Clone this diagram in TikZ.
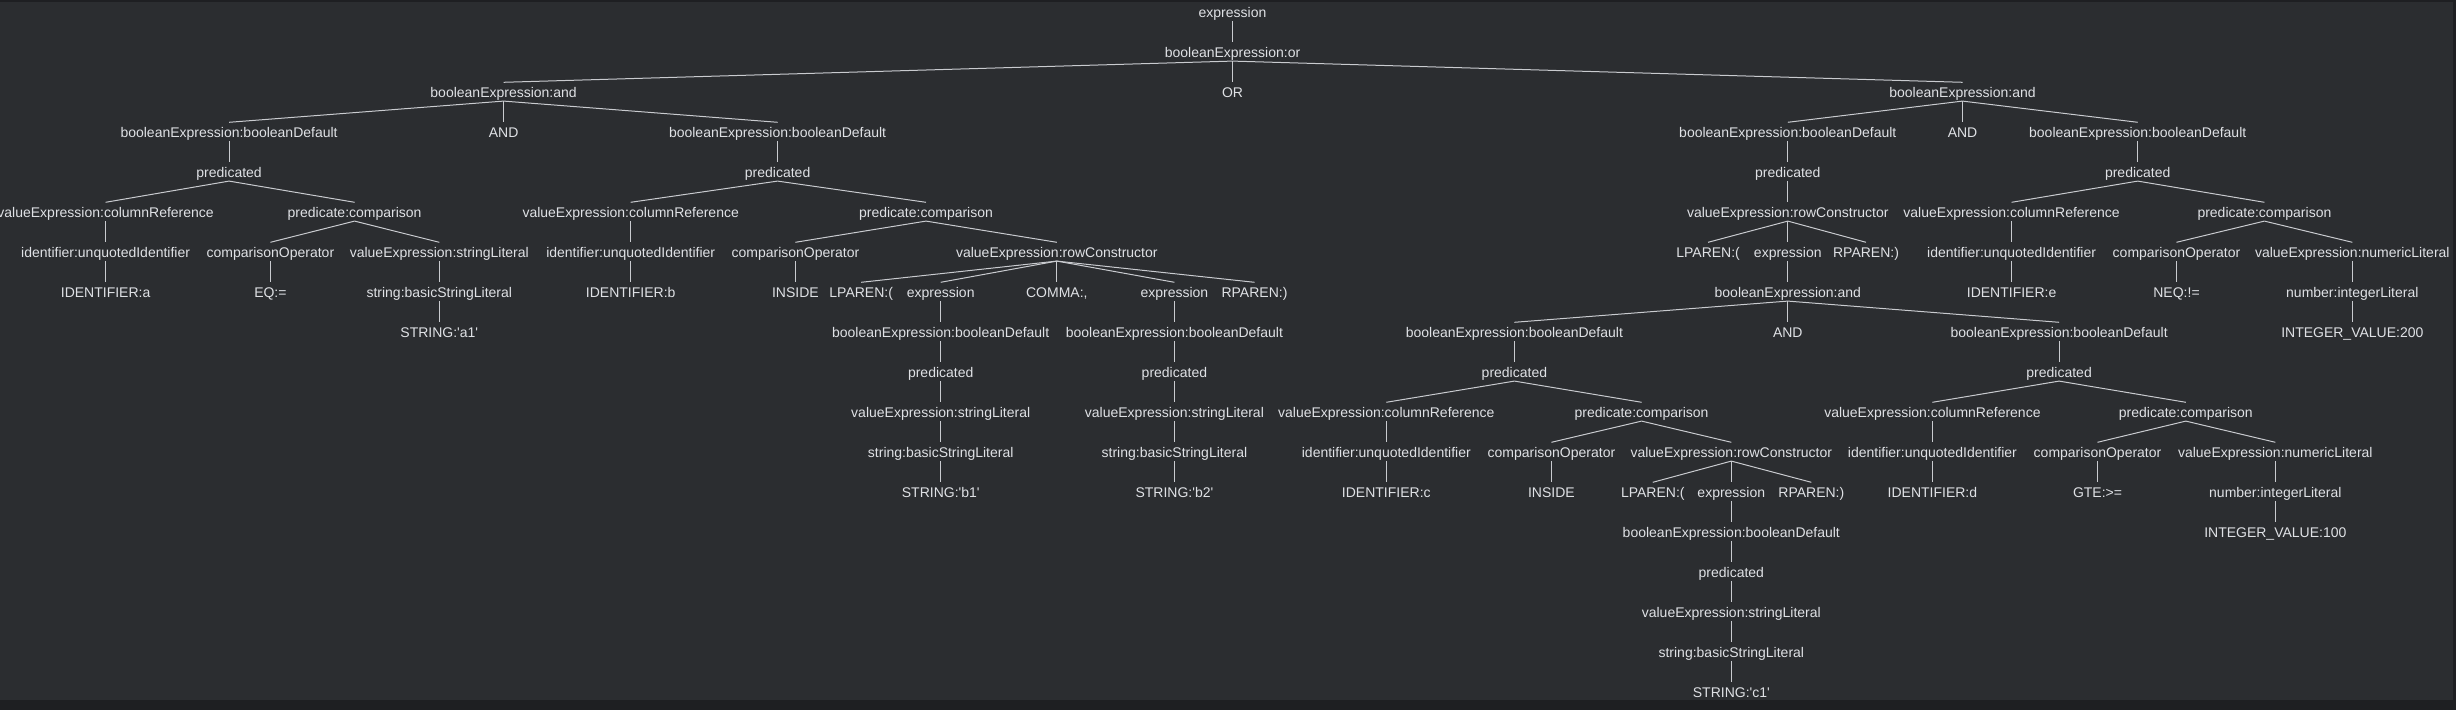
\documentclass[tikz,border=0pt]{standalone}
\usepackage{fontspec}
\setmainfont{Liberation Sans}
\definecolor{bgpanel}{HTML}{2B2D30}
\definecolor{bgframe}{HTML}{1E1F22}
\definecolor{textgray}{HTML}{DFE1E5}
\definecolor{linegray}{HTML}{C9CBCF}
\tikzstyle{tree edge} = [draw,line width=0.5pt,linegray,-]

\begin{document}
\begin{tikzpicture}[-,x=0.5pt,y=-0.5pt,node distance=20pt,
  tree node/.style={text=textgray,inner sep=0pt,text height=7.3pt,text depth=1.7pt,font=\fontsize{7}{8.4}\selectfont}]

  \useasboundingbox (0,0) rectangle (2456,710);
  \clip (0,0) rectangle (2456,710);
  \fill[bgpanel] (0,0) rectangle (2456,710);
  \fill[bgframe] (0,0) rectangle (2456,2);
  \fill[bgframe] (0,700) rectangle (2456,710);
  \fill[bgframe] (2453,0) rectangle (2456,710);

  % top of the tree
  \node[tree node] (0) at (1232.5,11.7) {expression};
  \node[tree node] (1) [below of=0] {booleanExpression:or};
  \node[tree node] (2) at (503.6,91.7) {booleanExpression:and};
  \node[tree node] (3) [below of=1] {OR};
  \node[tree node] (4) at (1962.5,91.7) {booleanExpression:and};

  % left and
  \node[tree node] (5) at (229.1,131.7) {booleanExpression:booleanDefault};
  \node[tree node] (6) [below of=2] {AND};
  \node[tree node] (7) at (777.6,131.7) {booleanExpression:booleanDefault};
  \node[tree node] (8) [below of=5] {predicated};
  \node[tree node] (9) at (105.6,211.7) {valueExpression:columnReference};
  \node[tree node] (10) at (354.6,211.7) {predicate:comparison};
  \node[tree node] (11) [below of=9] {identifier:unquotedIdentifier};
  \node[tree node] (12) [below of=11] {IDENTIFIER:a};
  \node[tree node] (13) at (270.4,251.7) {comparisonOperator};
  \node[tree node] (14) at (439.3,251.7) {valueExpression:stringLiteral};
  \node[tree node] (15) [below of=13] {EQ:=};
  \node[tree node] (16) [below of=14] {string:basicStringLiteral};
  \node[tree node] (17) [below of=16] {STRING:\textquotesingle a1\textquotesingle};

  \node[tree node] (18) [below of=7] {predicated};
  \node[tree node] (19) at (630.7,211.7) {valueExpression:columnReference};
  \node[tree node] (20) at (926,211.7) {predicate:comparison};
  \node[tree node] (21) [below of=19] {identifier:unquotedIdentifier};
  \node[tree node] (22) [below of=21] {IDENTIFIER:b};
  \node[tree node] (23) at (795.4,251.7) {comparisonOperator};
  \node[tree node] (24) [below of=23] {INSIDE};
  \node[tree node] (25) at (1056.8,251.7) {valueExpression:rowConstructor};
  \node[tree node] (26) at (861.2,291.7) {LPAREN:(};
  \node[tree node] (27) at (940.7,291.7) {expression};
  \node[tree node] (28) [below of=25] {COMMA:,};
  \node[tree node] (29) at (1174.4,291.7) {expression};
  \node[tree node] (30) at (1254.5,291.7) {RPAREN:)};
  \node[tree node] (31) [below of=27] {booleanExpression:booleanDefault};
  \node[tree node] (32) [below of=31] {predicated};
  \node[tree node] (33) [below of=32] {valueExpression:stringLiteral};
  \node[tree node] (34) [below of=33] {string:basicStringLiteral};
  \node[tree node] (35) [below of=34] {STRING:\textquotesingle b1\textquotesingle};
  \node[tree node] (36) [below of=29] {booleanExpression:booleanDefault};
  \node[tree node] (37) [below of=36] {predicated};
  \node[tree node] (38) [below of=37] {valueExpression:stringLiteral};
  \node[tree node] (39) [below of=38] {string:basicStringLiteral};
  \node[tree node] (40) [below of=39] {STRING:\textquotesingle b2\textquotesingle};

  % right and
  \node[tree node] (41) at (1787.8,131.7) {booleanExpression:booleanDefault};
  \node[tree node] (42) [below of=4] {AND};
  \node[tree node] (43) at (2137.7,131.7) {booleanExpression:booleanDefault};
  \node[tree node] (44) [below of=41] {predicated};
  \node[tree node] (45) [below of=44] {valueExpression:rowConstructor};
  \node[tree node] (46) at (1708.1,251.7) {LPAREN:(};
  \node[tree node] (47) [below of=45] {expression};
  \node[tree node] (48) at (1866,251.7) {RPAREN:)};
  \node[tree node] (49) [below of=47] {booleanExpression:and};
  \node[tree node] (50) at (1514.4,331.7) {booleanExpression:booleanDefault};
  \node[tree node] (51) [below of=49] {AND};
  \node[tree node] (52) at (2059.1,331.7) {booleanExpression:booleanDefault};

  \node[tree node] (53) [below of=50] {predicated};
  \node[tree node] (54) at (1386.3,411.7) {valueExpression:columnReference};
  \node[tree node] (55) at (1641.6,411.7) {predicate:comparison};
  \node[tree node] (56) [below of=54] {identifier:unquotedIdentifier};
  \node[tree node] (57) [below of=56] {IDENTIFIER:c};
  \node[tree node] (58) at (1551.4,451.7) {comparisonOperator};
  \node[tree node] (59) [below of=58] {INSIDE};
  \node[tree node] (60) at (1731.3,451.7) {valueExpression:rowConstructor};
  \node[tree node] (61) at (1652.8,491.7) {LPAREN:(};
  \node[tree node] (62) [below of=60] {expression};
  \node[tree node] (63) at (1811.3,491.7) {RPAREN:)};
  \node[tree node] (64) [below of=62] {booleanExpression:booleanDefault};
  \node[tree node] (65) [below of=64] {predicated};
  \node[tree node] (66) [below of=65] {valueExpression:stringLiteral};
  \node[tree node] (67) [below of=66] {string:basicStringLiteral};
  \node[tree node] (68) [below of=67] {STRING:\textquotesingle c1\textquotesingle};

  \node[tree node] (69) [below of=52] {predicated};
  \node[tree node] (70) at (1932.4,411.7) {valueExpression:columnReference};
  \node[tree node] (71) at (2185.8,411.7) {predicate:comparison};
  \node[tree node] (72) [below of=70] {identifier:unquotedIdentifier};
  \node[tree node] (73) [below of=72] {IDENTIFIER:d};
  \node[tree node] (74) at (2097.5,451.7) {comparisonOperator};
  \node[tree node] (75) at (2275.3,451.7) {valueExpression:numericLiteral};
  \node[tree node] (76) [below of=74] {GTE:>=};
  \node[tree node] (77) [below of=75] {number:integerLiteral};
  \node[tree node] (78) [below of=77] {INTEGER\_VALUE:100};

  \node[tree node] (79) [below of=43] {predicated};
  \node[tree node] (80) at (2011.6,211.7) {valueExpression:columnReference};
  \node[tree node] (81) at (2264.4,211.7) {predicate:comparison};
  \node[tree node] (82) [below of=80] {identifier:unquotedIdentifier};
  \node[tree node] (83) [below of=82] {IDENTIFIER:e};
  \node[tree node] (84) at (2176.5,251.7) {comparisonOperator};
  \node[tree node] (85) at (2352.3,251.7) {valueExpression:numericLiteral};
  \node[tree node] (86) [below of=84] {NEQ:!=};
  \node[tree node] (87) [below of=85] {number:integerLiteral};
  \node[tree node] (88) [below of=87] {INTEGER\_VALUE:200};

  \path[tree edge]
    (0.south) edge (1.north)
    (1.south) edge (2.north) edge (3.north) edge (4.north)
    (2.south) edge (5.north) edge (6.north) edge (7.north)
    (5.south) edge (8.north)
    (8.south) edge (9.north) edge (10.north)
    (9.south) edge (11.north)
    (11.south) edge (12.north)
    (10.south) edge (13.north) edge (14.north)
    (13.south) edge (15.north)
    (14.south) edge (16.north)
    (16.south) edge (17.north)
    (7.south) edge (18.north)
    (18.south) edge (19.north) edge (20.north)
    (19.south) edge (21.north)
    (21.south) edge (22.north)
    (20.south) edge (23.north) edge (25.north)
    (23.south) edge (24.north)
    (25.south) edge (26.north) edge (27.north) edge (28.north) edge (29.north) edge (30.north)
    (27.south) edge (31.north)
    (31.south) edge (32.north)
    (32.south) edge (33.north)
    (33.south) edge (34.north)
    (34.south) edge (35.north)
    (29.south) edge (36.north)
    (36.south) edge (37.north)
    (37.south) edge (38.north)
    (38.south) edge (39.north)
    (39.south) edge (40.north)
    (4.south) edge (41.north) edge (42.north) edge (43.north)
    (41.south) edge (44.north)
    (44.south) edge (45.north)
    (45.south) edge (46.north) edge (47.north) edge (48.north)
    (47.south) edge (49.north)
    (49.south) edge (50.north) edge (51.north) edge (52.north)
    (50.south) edge (53.north)
    (53.south) edge (54.north) edge (55.north)
    (54.south) edge (56.north)
    (56.south) edge (57.north)
    (55.south) edge (58.north) edge (60.north)
    (58.south) edge (59.north)
    (60.south) edge (61.north) edge (62.north) edge (63.north)
    (62.south) edge (64.north)
    (64.south) edge (65.north)
    (65.south) edge (66.north)
    (66.south) edge (67.north)
    (67.south) edge (68.north)
    (52.south) edge (69.north)
    (69.south) edge (70.north) edge (71.north)
    (70.south) edge (72.north)
    (72.south) edge (73.north)
    (71.south) edge (74.north) edge (75.north)
    (74.south) edge (76.north)
    (75.south) edge (77.north)
    (77.south) edge (78.north)
    (43.south) edge (79.north)
    (79.south) edge (80.north) edge (81.north)
    (80.south) edge (82.north)
    (82.south) edge (83.north)
    (81.south) edge (84.north) edge (85.north)
    (84.south) edge (86.north)
    (85.south) edge (87.north)
    (87.south) edge (88.north);

\end{tikzpicture}
\end{document}
